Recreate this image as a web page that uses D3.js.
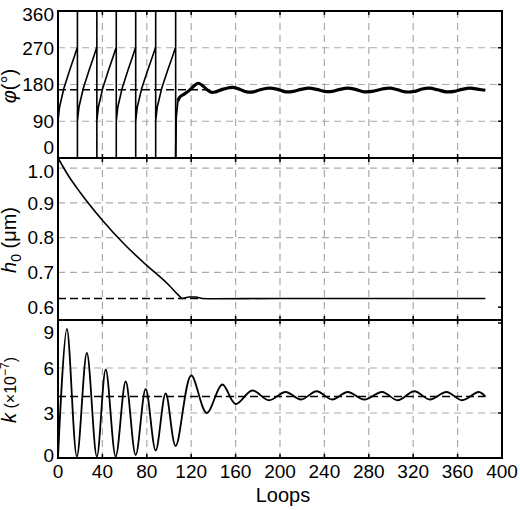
<!DOCTYPE html><html><head><script src="https://d3js.org/d3.v7.min.js"></script>
<style>body{margin:0;background:#fff}text{font-family:"Liberation Sans Narrow","Liberation Sans",Arial,sans-serif}</style></head><body>
<script>
const xTicks=[0,40,80,120,160,200,240,280,320,360,400];
const phiTicks=[0,90,180,270,360];
const hTicks=[0.6,0.7,0.8,0.9,1.0];
const kTicks=[0,3,6,9];
const phiWrapX=[17.5,35,52.5,70,88,106];
const phiSettle=[[106,0],[106.5,100],[108,140],[110,150],[114,157],[118,165],[122,175],[126,183],[130,178],[134,168],[138,161],[142,162],[148,168],[154,172],[158,173],[164,168],[170,162],[176,162],[182,167],[190,171],[198,168],[205,162],[212,163],[219,168],[226,171],[233,168],[240,163],[247,163],[254,168],[261,171],[268,168],[276,162],[283,163],[292,169],[299,171],[306,167],[313,162],[321,163],[328,169],[335,171],[342,167],[350,162],[357,163],[364,168],[371,171],[379,168],[385,166]];
const phiRef=167;
const hData=[[0,1.029],[10,0.975],[20,0.93],[40,0.85],[60,0.78],[80,0.72],[100,0.663],[108,0.636],[112,0.625],[118,0.629],[124,0.629],[130,0.625],[140,0.624],[200,0.625],[300,0.625],[385,0.625]];
const hRef=0.625;
const kData=[[0,0],[8,8.6],[17,0.1],[26,7.0],[35,0.1],[43,5.9],[52,0.1],[61,5.1],[70,0.2],[79,4.6],[88,0.5],[97,4.3],[106,0.8],[120,5.5],[134,3.0],[148,4.9],[160,3.6],[175,4.5],[190,3.85],[205,4.4],[219,3.9],[233,4.45],[247,3.9],[261,4.4],[276,3.9],[292,4.4],[306,3.85],[321,4.45],[335,3.9],[350,4.4],[364,3.85],[379,4.4],[385,4.1]];
const kRef=4.1;

const W=520,H=510,L=58,R=502;
const svg=d3.select("body").append("svg").attr("width",W).attr("height",H);
const x=d3.scaleLinear().domain([0,400]).range([L,R]);
const panels=[
 {y:d3.scaleLinear().domain([0,360]).range([158,11]),ticks:phiTicks,grid:[90,180,270],top:11,bot:158,fmt:d=>d,lab:d=>d==0?-11:(d==360?3:0)},
 {y:d3.scaleLinear().domain([0.563,1.029]).range([320,158]),ticks:hTicks,grid:[0.7,0.8,0.9,1.0],top:158,bot:320,fmt:d3.format(".1f"),lab:d=>d==1?3:0},
 {y:d3.scaleLinear().domain([0,9.2]).range([458,320]),ticks:kTicks,grid:[3,6],top:320,bot:458,fmt:d=>d,lab:d=>d==9?9:(d==0?-3:0)}
];
panels.forEach((p,i)=>{
 const g=svg.append("g");
 xTicks.slice(1,-1).forEach(t=>g.append("line").attr("x1",x(t)).attr("x2",x(t)).attr("y1",p.top).attr("y2",p.bot).attr("stroke","#aaa").attr("stroke-dasharray","7,5").attr("stroke-width",1.2));
 p.grid.forEach(t=>g.append("line").attr("x1",L).attr("x2",R).attr("y1",p.y(t)).attr("y2",p.y(t)).attr("stroke","#aaa").attr("stroke-dasharray","7,5").attr("stroke-width",1.2));
 xTicks.slice(1,-1).forEach(t=>{g.append("line").attr("x1",x(t)).attr("x2",x(t)).attr("y1",p.top).attr("y2",p.top+4).attr("stroke","#000").attr("stroke-width",1.5);
   g.append("line").attr("x1",x(t)).attr("x2",x(t)).attr("y1",p.bot).attr("y2",p.bot-4).attr("stroke","#000").attr("stroke-width",1.5);});
 p.ticks.forEach(t=>{g.append("line").attr("x1",R).attr("x2",R-4).attr("y1",p.y(t)).attr("y2",p.y(t)).attr("stroke","#000").attr("stroke-width",1.5);
   g.append("text").attr("x",L-4).attr("y",p.y(t)+p.lab(t)).attr("dy","0.36em").attr("text-anchor","end").attr("font-size",19).text(p.fmt(t));});
 g.append("rect").attr("x",L).attr("y",p.top).attr("width",R-L).attr("height",p.bot-p.top).attr("fill","none").attr("stroke","#000").attr("stroke-width",2);
});
const [P0,P1,P2]=panels;
const phiPts=[[0,90]];
const starts=[0].concat(phiWrapX.slice(0,-1));
phiWrapX.forEach((xe,i)=>{const xs=starts[i];const d=xe-xs;
 if(i>0){phiPts.push([xs,0],[xs,90]);}
 phiPts.push([xs+d*0.08,125],[xs+d*0.3,170],[xs+d*0.6,215],[xs+d*0.85,250],[xe,272],[xe,360]);
});
phiPts.push([106,0]);
svg.append("clipPath").attr("id","c0").append("rect").attr("x",L).attr("y",11).attr("width",R-L).attr("height",147);
const lp=d3.line().x(d=>x(d[0])).y(d=>P0.y(d[1]));
svg.append("path").attr("d",lp(phiPts)).attr("fill","none").attr("stroke","#000").attr("stroke-width",1.6).attr("clip-path","url(#c0)");
svg.append("line").attr("x1",L).attr("x2",x(140)).attr("y1",P0.y(phiRef)).attr("y2",P0.y(phiRef)).attr("stroke","#000").attr("stroke-width",1.6).attr("stroke-dasharray","8,4");
svg.append("path").attr("d",lp.curve(d3.curveCatmullRom)(phiSettle.slice(2))).attr("fill","none").attr("stroke","#000").attr("stroke-width",3.2);
svg.append("path").attr("d",d3.line().x(d=>x(d[0])).y(d=>P0.y(d[1]))(phiSettle.slice(0,3))).attr("fill","none").attr("stroke","#000").attr("stroke-width",1.8);
svg.append("line").attr("x1",L).attr("x2",x(130)).attr("y1",P1.y(hRef)).attr("y2",P1.y(hRef)).attr("stroke","#000").attr("stroke-width",1.6).attr("stroke-dasharray","8,4");
svg.append("path").attr("d",d3.line().x(d=>x(d[0])).y(d=>P1.y(d[1])).curve(d3.curveMonotoneX)(hData)).attr("fill","none").attr("stroke","#000").attr("stroke-width",1.6);
svg.append("line").attr("x1",L).attr("x2",x(385)).attr("y1",P2.y(kRef)).attr("y2",P2.y(kRef)).attr("stroke","#000").attr("stroke-width",1.6).attr("stroke-dasharray","8,4");
svg.append("path").attr("d",d3.line().x(d=>x(d[0])).y(d=>P2.y(d[1])).curve(d3.curveCatmullRom.alpha(0.5))(kData)).attr("fill","none").attr("stroke","#000").attr("stroke-width",1.8);
xTicks.forEach(t=>svg.append("text").attr("x",x(t)).attr("y",478).attr("text-anchor","middle").attr("font-size",19).text(t));
svg.append("text").attr("x",283).attr("y",502).attr("text-anchor","middle").attr("font-size",20).text("Loops");
function ylab(yc,build){const t=svg.append("text").attr("transform",`translate(16,${yc}) rotate(-90)`).attr("text-anchor","middle").attr("font-size",20);build(t);}
ylab(86,t=>{t.append("tspan").attr("font-style","italic").text("φ");t.append("tspan").text("(°)");});
ylab(240,t=>{t.append("tspan").attr("font-style","italic").text("h");t.append("tspan").attr("font-size",14).attr("dy",5).text("0");t.append("tspan").attr("dy",-5).text(" (μm)");});
ylab(390,t=>{t.append("tspan").attr("font-style","italic").text("k");t.append("tspan").attr("font-size",16).text(" (×10");t.append("tspan").attr("font-size",12).attr("dy",-7).text("−7");t.append("tspan").attr("font-size",16).attr("dy",7).text(")");});
</script></body></html>
